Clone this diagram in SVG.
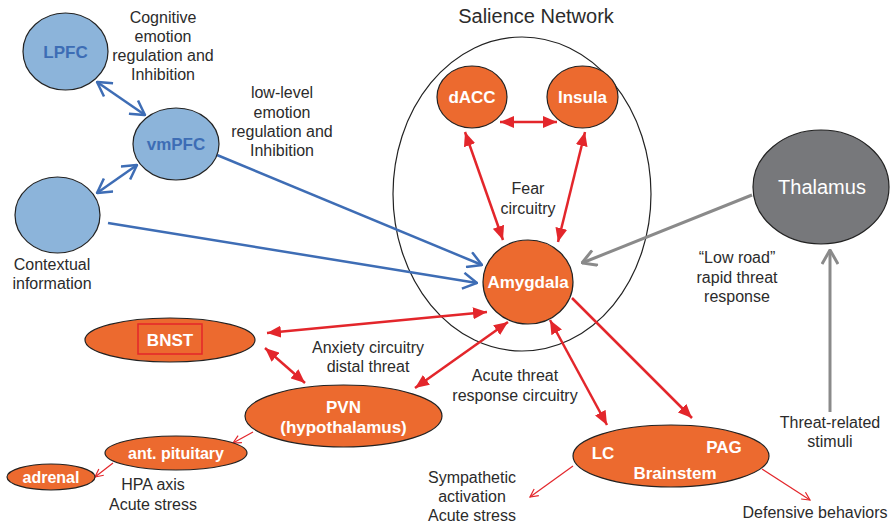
<svg xmlns="http://www.w3.org/2000/svg" width="893" height="527" viewBox="0 0 893 527">
<defs>
<style>
.lbl{font-family:"Liberation Sans",Arial,sans-serif;font-size:16px;fill:#2b2b2b;text-anchor:middle}
.nb{font-family:"Liberation Sans",Arial,sans-serif;font-weight:bold;font-size:17px;fill:#fff;text-anchor:middle}
.ns{font-family:"Liberation Sans",Arial,sans-serif;font-weight:bold;font-size:16px;fill:#fff;text-anchor:middle}
.blue{fill:#8cb4da;stroke:#222;stroke-width:1.2}
.or{fill:#ec6a2f;stroke:#222;stroke-width:1.2}
.bl{stroke:#3e6db5;stroke-width:2.5;fill:none}
.rd{stroke:#e3262b;stroke-width:2.5;fill:none}
.rt{stroke:#e3262b;stroke-width:1.2;fill:none}
.gr{stroke:#8a8a8a;stroke-width:3;fill:none}
</style>
<marker id="mb" markerUnits="userSpaceOnUse" viewBox="0 0 16 18" refX="15" refY="9" markerWidth="16" markerHeight="18" orient="auto-start-reverse"><path d="M1,1 L15,9 L1,17" fill="none" stroke="#3e6db5" stroke-width="2.5"/></marker>
<marker id="mg" markerUnits="userSpaceOnUse" viewBox="0 0 16 18" refX="15" refY="9" markerWidth="16" markerHeight="18" orient="auto-start-reverse"><path d="M1,1 L15,9 L1,17" fill="none" stroke="#8a8a8a" stroke-width="3"/></marker>
<marker id="mr" markerUnits="userSpaceOnUse" viewBox="0 0 14 12" refX="14" refY="6" markerWidth="14" markerHeight="12" orient="auto-start-reverse"><path d="M0,0 L14,6 L0,12 z" fill="#e3262b"/></marker>
<marker id="mt" markerUnits="userSpaceOnUse" viewBox="0 0 10 10" refX="9" refY="5" markerWidth="10" markerHeight="10" orient="auto"><path d="M1,1 L9,5 L1,9" fill="none" stroke="#e3262b" stroke-width="1.2"/></marker>
</defs>
<rect width="893" height="527" fill="#fff"/>

<g id="salience-network">
<ellipse cx="522" cy="194" rx="129" ry="157" fill="none" stroke="#222" stroke-width="1.2"/>
<text class="lbl" x="536" y="23" style="font-size:20px">Salience Network</text>
</g>

<g id="connectors">
<line class="bl" x1="97" y1="82" x2="145" y2="115" marker-start="url(#mb)" marker-end="url(#mb)"/>
<line class="bl" x1="137" y1="165" x2="97" y2="193" marker-start="url(#mb)" marker-end="url(#mb)"/>
<line class="bl" x1="217" y1="155" x2="482" y2="265" marker-end="url(#mb)"/>
<line class="bl" x1="108" y1="223" x2="477" y2="283" marker-end="url(#mb)"/>
<line class="rd" x1="500" y1="122" x2="557" y2="122" marker-start="url(#mr)" marker-end="url(#mr)"/>
<line class="rd" x1="465" y1="132" x2="503" y2="240" marker-start="url(#mr)" marker-end="url(#mr)"/>
<line class="rd" x1="585" y1="132" x2="558" y2="242" marker-start="url(#mr)" marker-end="url(#mr)"/>
<line class="rd" x1="487" y1="312" x2="267" y2="333" marker-start="url(#mr)" marker-end="url(#mr)"/>
<line class="rd" x1="265" y1="348" x2="305" y2="383" marker-start="url(#mr)" marker-end="url(#mr)"/>
<line class="rd" x1="508" y1="322" x2="415" y2="388" marker-start="url(#mr)" marker-end="url(#mr)"/>
<line class="rd" x1="550" y1="320" x2="607" y2="425" marker-start="url(#mr)" marker-end="url(#mr)"/>
<line class="rd" x1="572" y1="298" x2="692" y2="418" marker-end="url(#mr)"/>
<line class="gr" x1="752" y1="195" x2="582" y2="263" marker-end="url(#mg)"/>
<line class="gr" x1="830" y1="412" x2="830" y2="250" marker-end="url(#mg)"/>
<line class="rt" x1="253" y1="432" x2="233" y2="443" marker-end="url(#mt)"/>
<line class="rt" x1="113" y1="463" x2="95" y2="477" marker-end="url(#mt)"/>
<line class="rt" x1="573" y1="466" x2="530" y2="497" marker-end="url(#mt)"/>
<line class="rt" x1="762" y1="469" x2="810" y2="500" marker-end="url(#mt)"/>
</g>

<g id="lpfc">
<ellipse class="blue" cx="65.5" cy="51.5" rx="42.5" ry="38.5"/>
<text class="nb" x="65.5" y="57.5" style="fill:#3d6db5">LPFC</text>
</g>
<g id="vmpfc">
<ellipse class="blue" cx="176" cy="144" rx="43" ry="36"/>
<text class="nb" x="176" y="150" style="fill:#3d6db5">vmPFC</text>
</g>
<g id="contextual">
<ellipse class="blue" cx="57.5" cy="215" rx="42.5" ry="38"/>
<text class="lbl" x="52" y="270">Contextual</text>
<text class="lbl" x="52" y="289">information</text>
</g>
<g id="dacc">
<ellipse class="or" cx="472" cy="97" rx="35" ry="31"/>
<text class="nb" x="472" y="103">dACC</text>
</g>
<g id="insula">
<ellipse class="or" cx="582.5" cy="97" rx="35.5" ry="31"/>
<text class="nb" x="582.5" y="103">Insula</text>
</g>
<g id="amygdala">
<ellipse class="or" cx="528" cy="282" rx="45" ry="42"/>
<text class="nb" x="528" y="288">Amygdala</text>
</g>
<g id="thalamus">
<ellipse cx="821" cy="187" rx="68" ry="57" fill="#77787b" stroke="#222" stroke-width="1.2"/>
<text class="lbl" x="822" y="194" style="font-size:20px;fill:#fff">Thalamus</text>
</g>
<g id="bnst">
<ellipse class="or" cx="170" cy="340" rx="85" ry="22"/>
<rect x="138" y="324" width="64" height="30" fill="none" stroke="#e3262b" stroke-width="1.5"/>
<text class="nb" x="170" y="346">BNST</text>
</g>
<g id="pvn">
<ellipse class="or" cx="343.5" cy="416" rx="98.5" ry="31"/>
<text class="nb" x="343.5" y="413">PVN</text>
<text class="nb" x="343.5" y="433">(hypothalamus)</text>
</g>
<g id="ant-pituitary">
<ellipse class="or" cx="176" cy="453" rx="71" ry="17"/>
<text class="ns" x="176" y="459">ant. pituitary</text>
</g>
<g id="adrenal">
<ellipse class="or" cx="51" cy="477" rx="44" ry="13"/>
<text class="ns" x="51" y="483">adrenal</text>
</g>
<g id="brainstem">
<ellipse class="or" cx="671" cy="456" rx="98" ry="31"/>
<text class="nb" x="603" y="459">LC</text>
<text class="nb" x="724" y="453">PAG</text>
<text class="nb" x="675" y="479">Brainstem</text>
</g>

<g id="labels">
<text class="lbl" x="163" y="23">Cognitive</text>
<text class="lbl" x="163" y="42">emotion</text>
<text class="lbl" x="163" y="61">regulation and</text>
<text class="lbl" x="163" y="80">Inhibition</text>
<text class="lbl" x="282" y="98">low-level</text>
<text class="lbl" x="282" y="118">emotion</text>
<text class="lbl" x="282" y="137">regulation and</text>
<text class="lbl" x="282" y="156">Inhibition</text>
<text class="lbl" x="528" y="194">Fear</text>
<text class="lbl" x="528" y="214">circuitry</text>
<text class="lbl" x="737" y="263">“Low road”</text>
<text class="lbl" x="737" y="283">rapid threat</text>
<text class="lbl" x="737" y="302">response</text>
<text class="lbl" x="830" y="428">Threat-related</text>
<text class="lbl" x="830" y="447">stimuli</text>
<text class="lbl" x="368" y="353">Anxiety circuitry</text>
<text class="lbl" x="368" y="372">distal threat</text>
<text class="lbl" x="515" y="381">Acute threat</text>
<text class="lbl" x="515" y="401">response circuitry</text>
<text class="lbl" x="472" y="483">Sympathetic</text>
<text class="lbl" x="472" y="502">activation</text>
<text class="lbl" x="472" y="521">Acute stress</text>
<text class="lbl" x="153" y="490">HPA axis</text>
<text class="lbl" x="153" y="510">Acute stress</text>
<text class="lbl" x="815" y="518">Defensive behaviors</text>
</g>
</svg>
